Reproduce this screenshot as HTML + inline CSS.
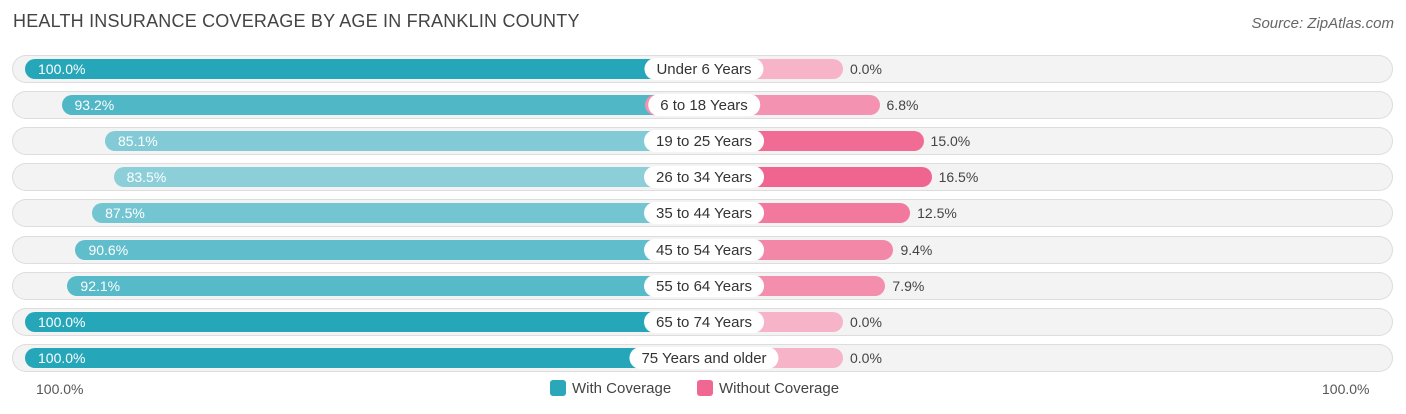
<!DOCTYPE html>
<html><head><meta charset="utf-8">
<style>
body{margin:0;width:1406px;height:414px;background:#fff;font-family:"Liberation Sans",sans-serif;position:relative;overflow:hidden}
.t{position:absolute;left:13px;top:11px;font-size:18px;color:#444;letter-spacing:0.2px}
.src{position:absolute;right:12px;top:15px;font-size:15px;color:#666;font-style:italic}
.pill{position:absolute;left:12px;width:1381px;height:28px;border-radius:14px;background:#f3f3f3;box-shadow:inset 0 0 0 1px #ddd}
.bar{position:absolute;height:20px;border-radius:10px}
.lbl{position:absolute;height:22px;border-radius:11px;background:#fff;font-size:15px;color:#333;text-align:center;line-height:23px;padding:0 12px;transform:translateX(-50%);white-space:nowrap}
.vl{position:absolute;font-size:14px;color:#fff;line-height:20px}
.vr{position:absolute;font-size:14px;color:#444;line-height:20px}
.ax{position:absolute;top:381px;font-size:14px;color:#555}
.leg{position:absolute;top:380px;font-size:15px;color:#444}
.sw{display:inline-block;width:16px;height:16px;border-radius:3px;vertical-align:-3px;margin-right:6px}
</style></head><body>
<div class="t">HEALTH INSURANCE COVERAGE BY AGE IN FRANKLIN COUNTY</div>
<div class="src">Source: ZipAtlas.com</div>
<div id="rows"></div>
<div class="ax" style="left:36px">100.0%</div>
<div class="ax" style="left:1322px">100.0%</div>
<div class="leg" style="left:550px"><span class="sw" style="background:#2aa7b9"></span>With Coverage</div>
<div class="leg" style="left:697px"><span class="sw" style="background:#f06892"></span>Without Coverage</div>
<script>
const categories=["Under 6 Years","6 to 18 Years","19 to 25 Years","26 to 34 Years","35 to 44 Years","45 to 54 Years","55 to 64 Years","65 to 74 Years","75 Years and older"];
const withCov=[100.0,93.2,85.1,83.5,87.5,90.6,92.1,100.0,100.0];
const withoutCov=[0.0,6.8,15.0,16.5,12.5,9.4,7.9,0.0,0.0];
const C=645,LC=704,S=5.37,L0=83,R0=198;
function mix(a,b,t){return 'rgb('+a.map((v,i)=>Math.round(v+(b[i]-v)*t)).join(',')+')';}
const root=document.getElementById('rows');
categories.forEach((c,i)=>{
  const cy=68.5+i*36.2;
  const p=document.createElement('div');p.className='pill';p.style.top=(cy-14)+'px';
  
  
  root.appendChild(p);
  const w=withCov[i]*S+L0;
  const b=document.createElement('div');b.className='bar';
  b.style.left=(C-w)+'px';b.style.width=(w+40)+'px';b.style.top=(cy-10)+'px';
  b.style.background=mix([140,207,217],[37,166,185],Math.max(0,Math.min(1,(withCov[i]-83.5)/16.5)));
  
  
  root.appendChild(b);
  const wr=withoutCov[i]*S+R0;
  const r=document.createElement('div');r.className='bar';
  r.style.left=C+'px';r.style.width=wr+'px';r.style.top=(cy-10)+'px';
  r.style.background=mix([247,180,200],[240,101,144],withoutCov[i]/16.5);
  
  
  root.appendChild(r);
  const vl=document.createElement('div');vl.className='vl';
  vl.style.left=(C-w+13)+'px';vl.style.top=(cy-10)+'px';vl.textContent=withCov[i].toFixed(1)+'%';
  
  
  root.appendChild(vl);
  const vr=document.createElement('div');vr.className='vr';
  vr.style.left=(C+wr+7)+'px';vr.style.top=(cy-10)+'px';vr.textContent=withoutCov[i].toFixed(1)+'%';
  
  
  root.appendChild(vr);
  const lb=document.createElement('div');lb.className='lbl';
  lb.style.left=LC+'px';lb.style.top=(cy-11)+'px';lb.textContent=c;
  
  
  root.appendChild(lb);
});
</script>
</body></html>
